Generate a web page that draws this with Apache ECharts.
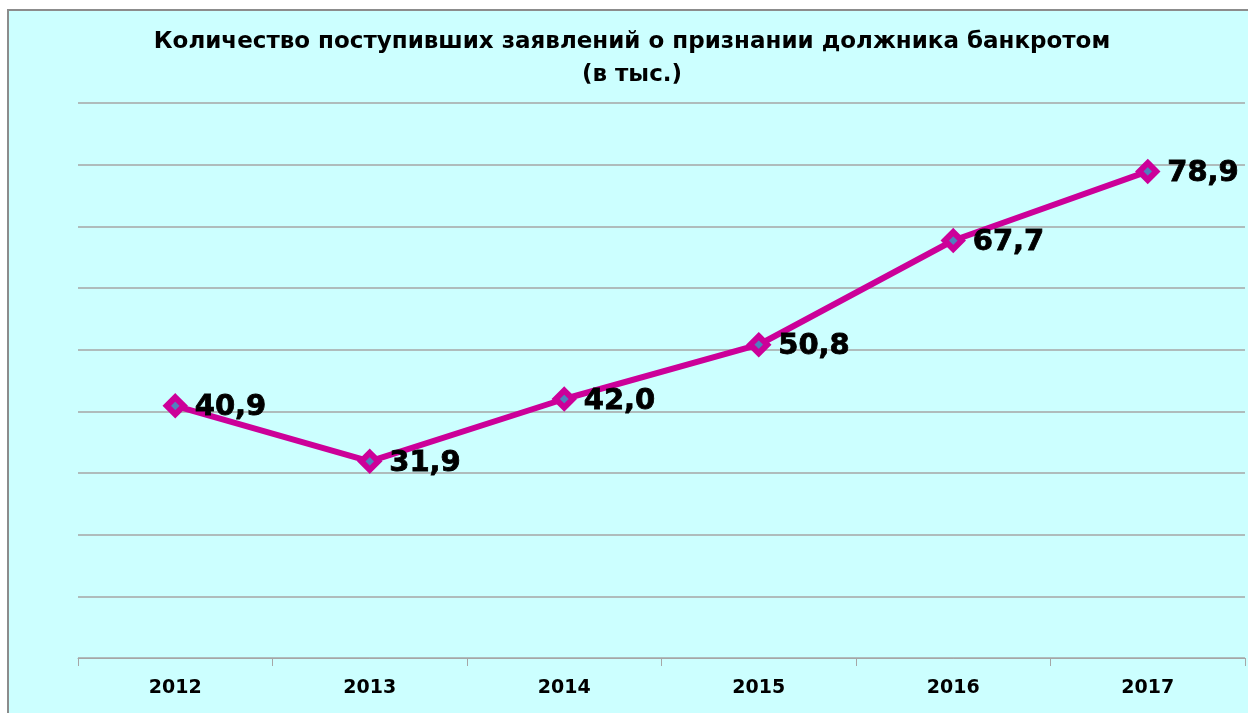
<!DOCTYPE html>
<html>
<head>
<meta charset="utf-8">
<script src="https://cdn.jsdelivr.net/npm/echarts@6/dist/echarts.min.js"></script>
<style>
  html, body { margin: 0; padding: 0; background: #fff; }
  #main { width: 1248px; height: 713px; }
</style>
</head>
<body>
<div id="main"></div>
<script>
var years = ['2012', '2013', '2014', '2015', '2016', '2017'];
var applications = [40.9, 31.9, 42.0, 50.8, 67.7, 78.9];
var titleLines = ['Количество поступивших заявлений о признании должника банкротом', '(в тыс.)'];

var myChart = echarts.init(document.getElementById('main'));

var option = {
    backgroundColor: '#ffffff',
    animation: false,
    graphic: [{
        type: 'rect',
        z: -10,
        shape: { x: 8, y: 10, width: 1250, height: 720 },
        style: { fill: '#CCFFFF', stroke: '#8c8c8c', lineWidth: 2 }
    }],
    title: {
        text: titleLines.join('\n'),
        left: 627,
        textAlign: 'center',
        top: 21,
        textStyle: {
            fontFamily: 'DejaVu Sans',
            fontWeight: 'bold',
            fontSize: 23,
            lineHeight: 33,
            color: '#000'
        }
    },
    grid: {
        left: 78,
        right: 3,
        top: 103,
        bottom: 55
    },
    xAxis: {
        type: 'category',
        data: years,
        axisLine: { lineStyle: { color: '#a6a6a6', width: 1 } },
        axisTick: { show: true, length: 8, lineStyle: { color: '#a6a6a6' } },
        axisLabel: {
            margin: 21,
            fontFamily: 'DejaVu Sans',
            fontWeight: 'bold',
            fontSize: 19,
            color: '#000'
        }
    },
    yAxis: {
        type: 'value',
        min: 0,
        max: 90,
        interval: 10,
        axisLabel: { show: false },
        axisLine: { show: false },
        axisTick: { show: false },
        splitLine: { lineStyle: { color: '#a6a6a6', width: 1.5 } }
    },
    series: [{
        type: 'line',
        data: applications,
        symbol: 'diamond',
        symbolSize: 17,
        lineStyle: { color: '#CC0099', width: 6 },
        itemStyle: { color: '#4F81BD', borderColor: '#CC0099', borderWidth: 6 },
        label: {
            show: true,
            position: 'right',
            distance: 8,
            offset: [0, 2],
            formatter: function (p) {
                return p.value.toFixed(1).replace('.', ',');
            },
            fontFamily: 'DejaVu Sans',
            fontWeight: 'bold',
            fontSize: 29,
            color: '#000',
            textBorderColor: '#000',
            textBorderWidth: 0.8
        }
    }]
};

myChart.setOption(option);
</script>
</body>
</html>
